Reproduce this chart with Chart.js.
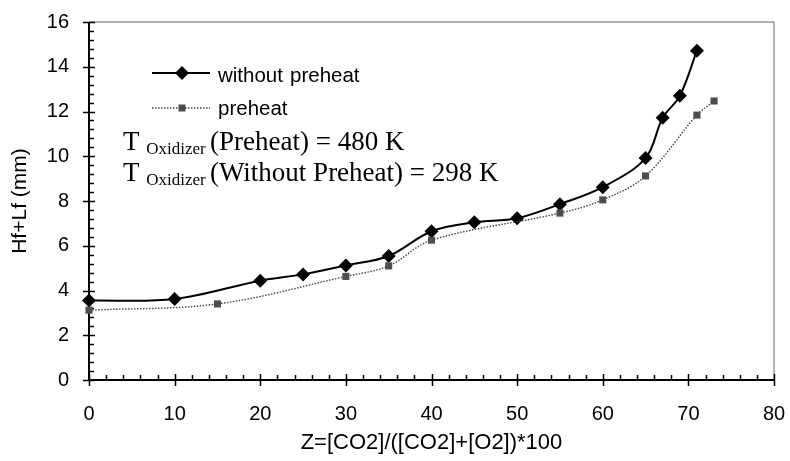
<!DOCTYPE html>
<html>
<head>
<meta charset="utf-8">
<script src="https://cdn.jsdelivr.net/npm/chart.js@4.4.1/dist/chart.umd.min.js"></script>
<style>
  html, body { margin: 0; padding: 0; background: #fff; }
  canvas { display: block; }
</style>
</head>
<body>
<canvas id="chart" width="790" height="461"></canvas>
<script>
/* ── data ── */
const zWithout = [0, 10, 20, 25, 30, 35, 40, 45, 50, 55, 60, 65, 67, 69, 71];
const hWithout = [3.55, 3.62, 4.44, 4.72, 5.12, 5.54, 6.65, 7.05, 7.23, 7.86, 8.62, 9.92, 11.72, 12.7, 14.72];

const zPreheat = [0, 15, 30, 35, 40, 55, 60, 65, 71, 73];
const hPreheat = [3.12, 3.4, 4.63, 5.1, 6.25, 7.46, 8.05, 9.12, 11.84, 12.47];

const xTicks = [0, 10, 20, 30, 40, 50, 60, 70, 80];
const yTicks = [0, 2, 4, 6, 8, 10, 12, 14, 16];

const seriesNames = ['without preheat', 'preheat'];
const noteLines = [
  ['T', 'Oxidizer', '(Preheat) = 480 K'],
  ['T', 'Oxidizer', '(Without Preheat) = 298 K'],
];

const SANS  = "'Liberation Sans', Arial, sans-serif";
const SERIF = "'Liberation Serif', 'Times New Roman', serif";

const toPts = (xs, ys) => xs.map((x, i) => ({ x, y: ys[i] }));

/* ── frame: axes, borders, major + minor ticks ── */
const framePlugin = {
  id: 'frame',
  beforeDatasetsDraw(chart) {
    const { ctx, chartArea: a, scales: { x, y } } = chart;
    ctx.save();
    // top + right border (grey)
    ctx.strokeStyle = '#9a9a9a';
    ctx.lineWidth = 1.5;
    ctx.beginPath();
    ctx.moveTo(a.left, a.top);
    ctx.lineTo(a.right, a.top);
    ctx.lineTo(a.right, a.bottom);
    ctx.stroke();

    ctx.strokeStyle = '#000';
    ctx.lineWidth = 2;
    ctx.beginPath();
    ctx.moveTo(a.left, a.top);
    ctx.lineTo(a.left, a.bottom);
    ctx.lineTo(a.right, a.bottom);
    ctx.stroke();

    ctx.lineWidth = 1.5;
    ctx.beginPath();
    // y: minor every 0.4, major every 2
    for (let i = 0; i <= 40; i++) {
      const py = Math.round(y.getPixelForValue(i * 0.4)) + 0.5;
      if (i % 5 === 0) {
        ctx.moveTo(a.left - 6, py);
        ctx.lineTo(a.left + 6, py);
      } else {
        ctx.moveTo(a.left, py);
        ctx.lineTo(a.left + 5, py);
      }
    }
    // x: minor every 2, major every 10
    for (let i = 0; i <= 40; i++) {
      const px = Math.round(x.getPixelForValue(i * 2)) + 0.5;
      if (i % 5 === 0) {
        ctx.moveTo(px, a.bottom + 6);
        ctx.lineTo(px, a.bottom - 6);
      } else {
        ctx.moveTo(px, a.bottom);
        ctx.lineTo(px, a.bottom - 5);
      }
    }
    ctx.stroke();
    ctx.restore();
  }
};

/* ── legend + oxidizer temperature note ── */
const notePlugin = {
  id: 'notes',
  afterDraw(chart) {
    const { ctx } = chart;
    ctx.save();

    // legend entry 1: solid line + diamond
    ctx.strokeStyle = '#000';
    ctx.lineWidth = 2;
    ctx.beginPath();
    ctx.moveTo(152, 73); ctx.lineTo(210, 73);
    ctx.stroke();
    ctx.fillStyle = '#000';
    ctx.beginPath();
    ctx.moveTo(182, 66); ctx.lineTo(189, 73); ctx.lineTo(182, 80); ctx.lineTo(175, 73);
    ctx.closePath();
    ctx.fill();

    // legend entry 2: dotted line + square
    ctx.strokeStyle = '#444';
    ctx.lineWidth = 1.4;
    ctx.setLineDash([1.5, 1.5]);
    ctx.beginPath();
    ctx.moveTo(152, 108); ctx.lineTo(210, 108);
    ctx.stroke();
    ctx.setLineDash([]);
    ctx.fillStyle = '#4d4d4d';
    ctx.fillRect(178.5, 104.5, 7, 7);

    ctx.fillStyle = '#000';
    ctx.font = '20.5px ' + SANS;
    ctx.textBaseline = 'alphabetic';
    const words = seriesNames[0].split(' ');
    ctx.fillText(words[0], 218, 82);
    ctx.fillText(words[1], 290, 82);
    ctx.fillText(seriesNames[1], 218, 115);

    // T_Oxidizer lines
    const baselines = [150, 181];
    noteLines.forEach((parts, i) => {
      let cx = 123;
      const b = baselines[i];
      ctx.font = '27px ' + SERIF;
      ctx.fillText(parts[0], cx, b);
      cx += ctx.measureText(parts[0] + ' ').width;
      ctx.font = '17px ' + SERIF;
      ctx.fillText(parts[1], cx, b + 4);
      cx += ctx.measureText(parts[1] + ' ').width;
      ctx.font = '27px ' + SERIF;
      ctx.fillText(parts[2], cx, b);
    });
    ctx.restore();
  }
};

const tickFont = { family: SANS, size: 20 };

new Chart(document.getElementById('chart'), {
  type: 'line',
  data: {
    datasets: [
      {
        label: seriesNames[0],
        data: toPts(zWithout, hWithout),
        borderColor: '#000',
        borderWidth: 2,
        backgroundColor: '#000',
        pointStyle: 'rectRot',
        pointRadius: 7,
        pointBorderWidth: 0,
        tension: 0.35,
        order: 2,
      },
      {
        label: seriesNames[1],
        data: toPts(zPreheat, hPreheat),
        borderColor: '#444',
        borderWidth: 1.4,
        borderDash: [1.5, 1.5],
        backgroundColor: '#4d4d4d',
        pointStyle: 'rect',
        pointRadius: 5,
        pointBorderWidth: 0,
        tension: 0.35,
        order: 1,
      }
    ]
  },
  options: {
    responsive: false,
    animation: false,
    clip: false,
    layout: { padding: { top: 22, right: 16, left: 0, bottom: 0 } },
    plugins: {
      legend: { display: false },
      tooltip: { enabled: false },
    },
    scales: {
      x: {
        type: 'linear',
        min: 0, max: 80,
        afterFit: s => { s.height = 81; s.paddingLeft = 0; s.paddingRight = 0; },
        afterBuildTicks: s => { s.ticks = xTicks.map(v => ({ value: v })); },
        grid: { display: false, drawTicks: false },
        border: { display: false },
        ticks: { color: '#000', font: tickFont, padding: 22, maxRotation: 0 },
        title: {
          display: true, text: 'Z=[CO2]/([CO2]+[O2])*100',
          color: '#000', font: { family: SANS, size: 22 }, padding: { top: 0, bottom: 5 }
        }
      },
      y: {
        min: 0, max: 16,
        afterFit: s => { s.width = 89; s.paddingTop = 0; s.paddingBottom = 0; },
        afterBuildTicks: s => { s.ticks = yTicks.map(v => ({ value: v })); },
        grid: { display: false, drawTicks: false },
        border: { display: false },
        ticks: { color: '#000', font: tickFont, padding: 20 },
        title: {
          display: true, text: 'Hf+Lf (mm)',
          color: '#000', font: { family: SANS, size: 21 }, padding: { top: 8, bottom: 0 }
        }
      }
    }
  },
  plugins: [framePlugin, notePlugin]
});
</script>
</body>
</html>
